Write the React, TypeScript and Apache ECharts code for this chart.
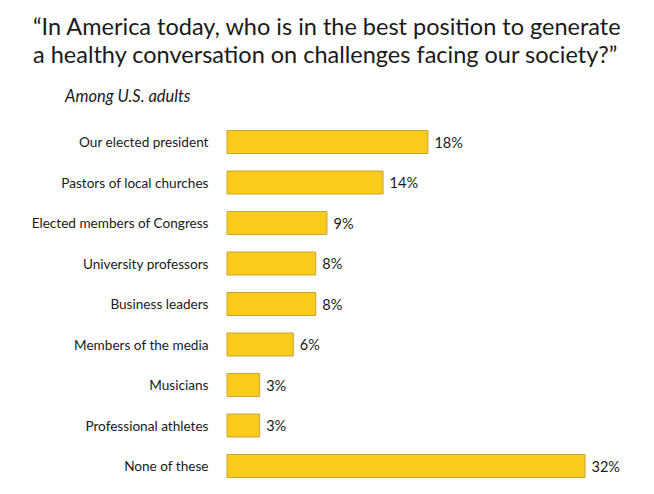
import React, { useEffect, useRef } from "react";
import * as echarts from "echarts";

const categories = [
  "Our elected president",
  "Pastors of local churches",
  "Elected members of Congress",
  "University professors",
  "Business leaders",
  "Members of the media",
  "Musicians",
  "Professional athletes",
  "None of these",
];
const values = [18, 14, 9, 8, 8, 6, 3, 3, 32];
const titleLines = [
  "\u201CIn America today, who is in the best position to generate",
  "a healthy conversation on challenges facing our society?\u201D",
];
const subtitle = "Among U.S. adults";

export default function App() {
  const ref = useRef<HTMLDivElement>(null);
  useEffect(() => {
    if (!ref.current) return;
    const chart = echarts.init(ref.current, null, { renderer: "svg" });
    chart.setOption({
      animation: false,
      backgroundColor: "#ffffff",
      title: [
        {
          text: titleLines.join("\n"),
          left: 28,
          top: 7,
          textStyle: {
            fontFamily: "Lato",
            fontSize: 23.5,
            fontWeight: "normal",
            color: "#1a1a1a",
            lineHeight: 28,
          },
        },
        {
          text: subtitle,
          left: 60,
          top: 82,
          textStyle: {
            fontFamily: "Lato",
            fontSize: 16.5,
            fontStyle: "italic",
            fontWeight: "normal",
            color: "#1a1a1a",
          },
        },
      ],
      grid: { left: 226.5, right: 68.5, top: 121.75, bottom: 7.75, containLabel: false },
      xAxis: {
        type: "value",
        min: 0,
        max: 32,
        show: false,
      },
      yAxis: {
        type: "category",
        inverse: true,
        data: categories,
        axisLine: { show: false },
        axisTick: { show: false },
        axisLabel: {
          margin: 18,
          fontFamily: "Lato",
          fontSize: 13.6,
          color: "#1a1a1a",
        },
      },
      series: [
        {
          type: "bar",
          data: values,
          barWidth: 24,
          itemStyle: { color: "#FBCB1B", borderColor: "#C9A53A", borderWidth: 1 },
          label: {
            show: true,
            position: "right",
            distance: 6,
            formatter: "{c}%",
            fontFamily: "Lato",
            fontSize: 14.5,
            color: "#1a1a1a",
          },
        },
      ],
    });
    return () => chart.dispose();
  }, []);
  return (
    <div
      ref={ref}
      style={{ position: "fixed", left: 0, top: 0, width: 654, height: 494 }}
    />
  );
}
